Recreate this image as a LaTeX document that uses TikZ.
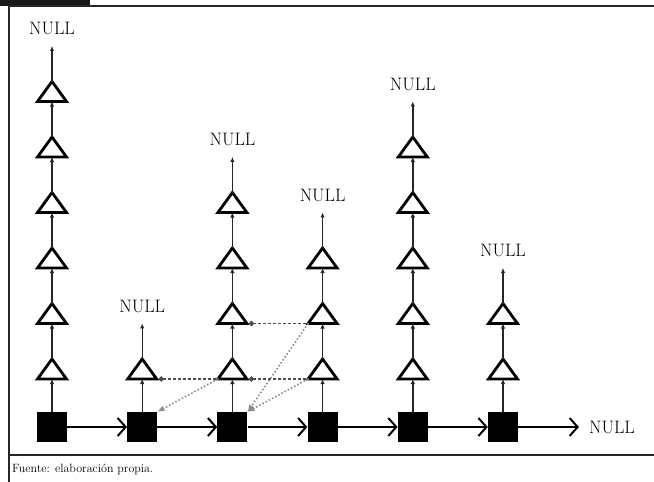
\documentclass[tikz,border=0pt]{standalone}
\usepackage{xcolor}
\usepackage{tikz}
\usetikzlibrary{arrows.meta,shapes.geometric}

\begin{document}
\begin{tikzpicture}[x=1pt, y=-1pt,
    keybox/.style={fill=black, minimum size=30pt, inner sep=0pt},
    lvl/.style={draw, isosceles triangle, shape border rotate=90, isosceles triangle stretches,
        minimum width=29pt, minimum height=20pt, inner sep=0pt, outer sep=0pt, line width=2.8pt, anchor=lower side},
    nulltext/.style={font=\fontsize{18}{21}\selectfont, inner sep=0pt},
    uparrow/.style={-{Latex[length=5pt,width=4.5pt]}, line width=1.4pt, black!85},
    nextarrow/.style={-{Straight Barb[length=8pt,width=18pt]}, line width=2pt},
    sideway/.style={{Circle[length=5pt]}-, dash pattern=on 3pt off 2pt, line width=1.8pt, black!70, shorten <=2pt},
    backlink/.style={-{Latex[length=7pt,width=6pt]}, dotted, line width=1.6pt, black!45}]
\useasboundingbox (0,0) rectangle (654,482);

% frame
\fill[black!90] (0,0) rectangle (90,6);
\draw[line width=2pt, black!85] (8,5.8) -- (654,5.8);
\draw[line width=2pt, black!85] (8.5,5) -- (8.5,482);
\draw[line width=1.5pt, black!85] (8,455) -- (654,455);
\node[anchor=west, font=\fontsize{12}{14}\selectfont, inner sep=0pt] (source) at (12,469) {Fuente: elaboración propia.};

% base list
\node[keybox] (key_0) at (52,427) {};
\node[keybox] (key_1) at (142.2,427) {};
\node[keybox] (key_2) at (232.4,427) {};
\node[keybox] (key_3) at (322.6,427) {};
\node[keybox] (key_4) at (412.8,427) {};
\node[keybox] (key_5) at (503,427) {};
\node[nulltext] (null_r) at (612,427) {NULL};

\draw[nextarrow] (key_0) -- (key_1);
\draw[nextarrow] (key_1) -- (key_2);
\draw[nextarrow] (key_2) -- (key_3);
\draw[nextarrow] (key_3) -- (key_4);
\draw[nextarrow] (key_4) -- (key_5);
\draw[nextarrow, shorten >=10pt] (key_5) -- (null_r);

% levels
\node[lvl] (lvl_0_1) at (52,379) {};
\node[lvl] (lvl_0_2) at (52,323.5) {};
\node[lvl] (lvl_0_3) at (52,268) {};
\node[lvl] (lvl_0_4) at (52,212.5) {};
\node[lvl] (lvl_0_5) at (52,157) {};
\node[lvl] (lvl_0_6) at (52,101.5) {};
\node[nulltext] (null_0) at (52,28.5) {NULL};

\node[lvl] (lvl_1_1) at (142.2,379) {};
\node[nulltext] (null_1) at (142.2,306) {NULL};

\node[lvl] (lvl_2_1) at (232.4,379) {};
\node[lvl] (lvl_2_2) at (232.4,323.5) {};
\node[lvl] (lvl_2_3) at (232.4,268) {};
\node[lvl] (lvl_2_4) at (232.4,212.5) {};
\node[nulltext] (null_2) at (232.4,139.5) {NULL};

\node[lvl] (lvl_3_1) at (322.6,379) {};
\node[lvl] (lvl_3_2) at (322.6,323.5) {};
\node[lvl] (lvl_3_3) at (322.6,268) {};
\node[nulltext] (null_3) at (322.6,195) {NULL};

\node[lvl] (lvl_4_1) at (412.8,379) {};
\node[lvl] (lvl_4_2) at (412.8,323.5) {};
\node[lvl] (lvl_4_3) at (412.8,268) {};
\node[lvl] (lvl_4_4) at (412.8,212.5) {};
\node[lvl] (lvl_4_5) at (412.8,157) {};
\node[nulltext] (null_4) at (412.8,84) {NULL};

\node[lvl] (lvl_5_1) at (503,379) {};
\node[lvl] (lvl_5_2) at (503,323.5) {};
\node[nulltext] (null_5) at (503,250.5) {NULL};

% upward links
\draw[uparrow] (key_0) -- (lvl_0_1.lower side);
\draw[uparrow] (lvl_0_1.apex) -- (lvl_0_2.lower side);
\draw[uparrow] (lvl_0_2.apex) -- (lvl_0_3.lower side);
\draw[uparrow] (lvl_0_3.apex) -- (lvl_0_4.lower side);
\draw[uparrow] (lvl_0_4.apex) -- (lvl_0_5.lower side);
\draw[uparrow] (lvl_0_5.apex) -- (lvl_0_6.lower side);
\draw[uparrow, shorten >=11pt] (lvl_0_6.apex) -- (null_0);

\draw[uparrow] (key_1) -- (lvl_1_1.lower side);
\draw[uparrow, shorten >=11pt] (lvl_1_1.apex) -- (null_1);

\draw[uparrow] (key_2) -- (lvl_2_1.lower side);
\draw[uparrow] (lvl_2_1.apex) -- (lvl_2_2.lower side);
\draw[uparrow] (lvl_2_2.apex) -- (lvl_2_3.lower side);
\draw[uparrow] (lvl_2_3.apex) -- (lvl_2_4.lower side);
\draw[uparrow, shorten >=11pt] (lvl_2_4.apex) -- (null_2);

\draw[uparrow] (key_3) -- (lvl_3_1.lower side);
\draw[uparrow] (lvl_3_1.apex) -- (lvl_3_2.lower side);
\draw[uparrow] (lvl_3_2.apex) -- (lvl_3_3.lower side);
\draw[uparrow, shorten >=11pt] (lvl_3_3.apex) -- (null_3);

\draw[uparrow] (key_4) -- (lvl_4_1.lower side);
\draw[uparrow] (lvl_4_1.apex) -- (lvl_4_2.lower side);
\draw[uparrow] (lvl_4_2.apex) -- (lvl_4_3.lower side);
\draw[uparrow] (lvl_4_3.apex) -- (lvl_4_4.lower side);
\draw[uparrow] (lvl_4_4.apex) -- (lvl_4_5.lower side);
\draw[uparrow, shorten >=11pt] (lvl_4_5.apex) -- (null_4);

\draw[uparrow] (key_5) -- (lvl_5_1.lower side);
\draw[uparrow] (lvl_5_1.apex) -- (lvl_5_2.lower side);
\draw[uparrow, shorten >=11pt] (lvl_5_2.apex) -- (null_5);

% search path
\draw[sideway] (lvl_1_1.right corner) -- (lvl_2_1.left corner);
\draw[sideway] (lvl_2_1.right corner) -- (lvl_3_1.left corner);
\draw[sideway] (lvl_2_2.right corner) -- (lvl_3_2.left corner);

\draw[backlink] (lvl_2_1.left corner) -- (key_1.north east);
\draw[backlink] (lvl_3_2.left corner) -- (key_2.north east);
\draw[backlink] (lvl_3_1.left corner) -- (key_2.north east);

\end{tikzpicture}
\end{document}
